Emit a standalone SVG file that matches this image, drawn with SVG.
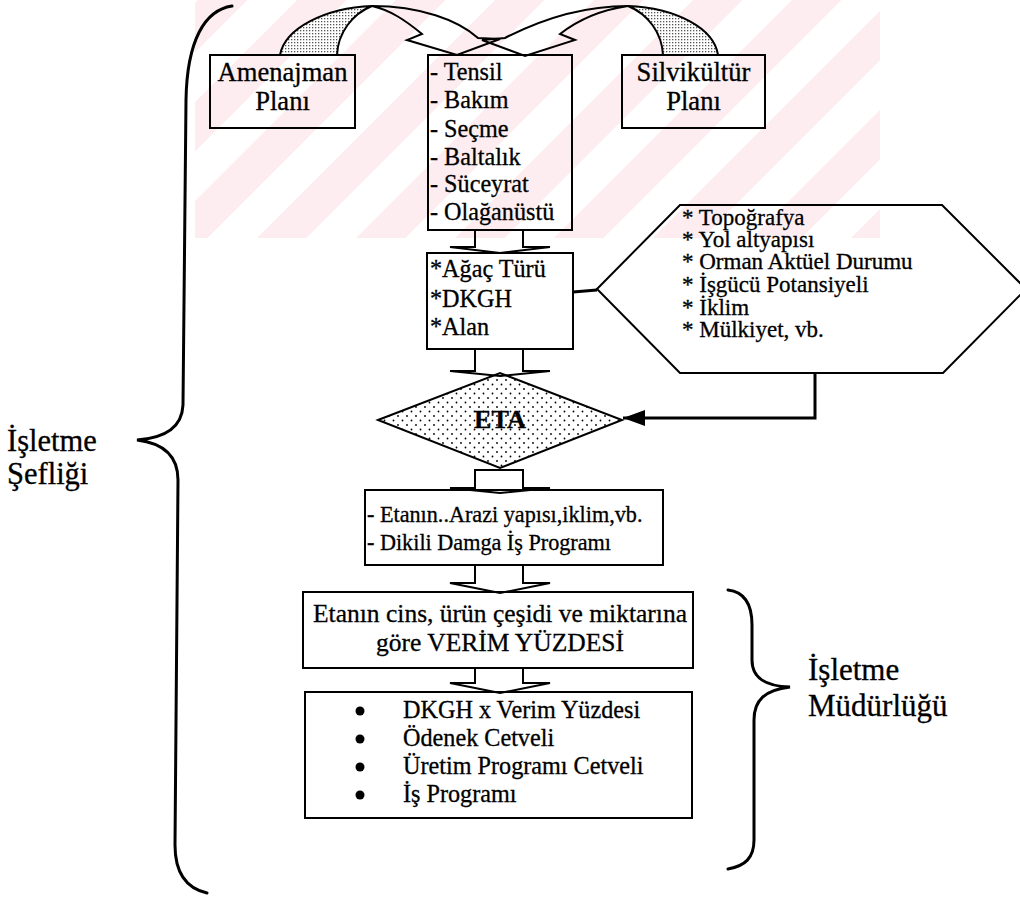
<svg xmlns="http://www.w3.org/2000/svg" width="1020" height="899" viewBox="0 0 1020 899">
  <style>
    .t { font-family: "Liberation Serif", "DejaVu Serif", serif; fill: #000; stroke: #000; stroke-width: 0.3; }
    .box { fill: none; stroke: #000; stroke-width: 2; }
    .blk { fill: none; stroke: #000; stroke-width: 2; stroke-linejoin: miter; }
    .brace { fill: none; stroke: #000; stroke-width: 3; stroke-linecap: round; }
    .link { fill: none; stroke: #000; stroke-width: 3; }
  </style>
  <defs>
    <pattern id="dots" width="9" height="9" patternUnits="userSpaceOnUse">
      <rect width="9" height="9" fill="#fff"/>
      <circle cx="2" cy="2" r="0.9" fill="#000"/>
      <circle cx="6.5" cy="6.5" r="0.9" fill="#000"/>
    </pattern>
    <pattern id="hatch" width="3" height="3" patternUnits="userSpaceOnUse">
      <rect width="3" height="3" fill="#fff"/>
      <rect width="1.3" height="1.3" fill="#555"/>
    </pattern>
    <pattern id="stripes" width="70" height="70" patternUnits="userSpaceOnUse" patternTransform="rotate(45)">
      <rect width="35" height="70" fill="#fdedf0"/>
    </pattern>
    <marker id="head" viewBox="0 0 10 10" refX="10" refY="5" markerWidth="22" markerHeight="16" markerUnits="userSpaceOnUse" orient="auto" preserveAspectRatio="none">
      <path d="M0,0 L10,5 L0,10 Z" fill="#000"/>
    </marker>
  </defs>

  <rect width="1020" height="899" fill="#fff"/>
  <!-- faint background band behind the top of the chart -->
  <polygon points="195,0 880,0 880,238 195,238" fill="url(#stripes)"/>

  <!-- curly braces -->
  <g id="brace-sefligi">
    <path class="brace" d="M232,6 C205,10 187,40 186,100 L183,405 C182,428 165,438 137,440 C162,443 178,455 178,480 L175,845 C175,872 185,888 207,893"/>
    <text class="t" x="7" y="451" font-size="30.5">İşletme</text>
    <text class="t" x="7" y="484" font-size="30.5">Şefliği</text>
  </g>
  <g id="brace-mudurlugu">
    <path class="brace" d="M728,590 C745,592 752,605 752,625 L752,660 C752,678 765,686 790,687 C765,690 754,700 754,720 L754,840 C754,858 745,866 728,869"/>
    <text class="t" x="808" y="680" font-size="31">İşletme</text>
    <text class="t" x="808" y="716" font-size="31">Müdürlüğü</text>
  </g>

  <!-- top plans -->
  <g id="amenajman">
    <rect class="box" x="210" y="55" width="145" height="73"/>
    <text class="t" x="282.5" y="81" font-size="26.6" text-anchor="middle">Amenajman</text>
    <text class="t" x="282.5" y="110" font-size="26.6" text-anchor="middle">Planı</text>
  </g>
  <g id="silvikultur">
    <rect class="box" x="622" y="55" width="143" height="73"/>
    <text class="t" x="693.5" y="81" font-size="26.6" text-anchor="middle">Silvikültür</text>
    <text class="t" x="693.5" y="110" font-size="26.6" text-anchor="middle">Planı</text>
  </g>
  <g id="kesim-turleri">
    <rect class="box" x="428" y="55" width="144" height="175"/>
    <g class="t" font-size="24.2">
      <text x="430" y="80">- Tensil</text>
      <text x="430" y="108">- Bakım</text>
      <text x="430" y="137">- Seçme</text>
      <text x="430" y="165">- Baltalık</text>
      <text x="430" y="192">- Süceyrat</text>
      <text x="430" y="220">- Olağanüstü</text>
    </g>
  </g>

  <g id="agac">
    <rect class="box" x="427" y="253" width="146" height="96"/>
    <g class="t" font-size="24.2">
      <text x="430" y="277">*Ağaç Türü</text>
      <text x="430" y="307">*DKGH</text>
      <text x="430" y="335">*Alan</text>
    </g>
  </g>

  <g id="etkenler">
    <polygon class="box" points="597,289 680,205 942,205 1026,289 943,373 680,373"/>
    <g class="t" font-size="23">
      <text x="682" y="225">* Topoğrafya</text>
      <text x="682" y="247">* Yol altyapısı</text>
      <text x="682" y="269">* Orman Aktüel Durumu</text>
      <text x="682" y="292">* İşgücü Potansiyeli</text>
      <text x="682" y="315">* İklim</text>
      <text x="682" y="337">* Mülkiyet, vb.</text>
    </g>
  </g>

  <g id="eta">
    <polygon points="378,420 500,373 622,420 500,468" fill="url(#dots)" stroke="#000" stroke-width="2"/>
    <text class="t" x="500" y="428" font-size="26.2" font-weight="bold" text-anchor="middle">ETA</text>
  </g>

  <g id="arazi">
    <rect class="box" x="365" y="490" width="298" height="75"/>
    <g class="t" font-size="22.2">
      <text x="367" y="522">- Etanın..Arazi yapısı,iklim,vb.</text>
      <text x="367" y="550">- Dikili Damga İş Programı</text>
    </g>
  </g>

  <g id="verim">
    <rect class="box" x="303" y="592" width="390" height="76"/>
    <g class="t" font-size="25.5" text-anchor="middle">
      <text x="500" y="622">Etanın cins, ürün çeşidi ve miktarına</text>
      <text x="500" y="651">göre VERİM YÜZDESİ</text>
    </g>
  </g>

  <g id="program">
    <rect class="box" x="305" y="692" width="387" height="126"/>
    <g fill="#000">
      <circle cx="360" cy="711" r="4.5"/>
      <circle cx="360" cy="739" r="4.5"/>
      <circle cx="360" cy="767" r="4.5"/>
      <circle cx="360" cy="795" r="4.5"/>
    </g>
    <g class="t" font-size="24.2">
      <text x="403" y="718">DKGH x Verim Yüzdesi</text>
      <text x="403" y="746">Ödenek Cetveli</text>
      <text x="403" y="774">Üretim Programı Cetveli</text>
      <text x="403" y="802">İş Programı</text>
    </g>
  </g>

  <!-- connectors -->
  <g id="connectors">
    <!-- curved arrow from Amenajman Planı -->
    <path d="M280,55 C285,28 325,8 372,6 C352,14 338,33 337,55 Z" fill="url(#hatch)" stroke="#000" stroke-width="2"/>
    <path class="blk" d="M372,6 C420,6 458,20 478,38 L500,39 L457,55 L407,40 L422,34 C405,20 390,10 372,6 Z"/>
    <!-- curved arrow from Silvikültür Planı -->
    <path d="M718,55 C714,28 676,8 628,6 C648,14 662,33 663,55 Z" fill="url(#hatch)" stroke="#000" stroke-width="2"/>
    <path class="blk" d="M628,6 C580,6 540,20 505,38 L482,40 L525,56 L575,40 L560,34 C578,20 600,10 628,6 Z"/>

    <!-- block arrows down the chain -->
    <path class="blk" d="M475,230 L475,247 L450,247 L500,253 L550,247 L523,247 L523,230"/>
    <path class="blk" d="M475,349 L475,371 L450,371 L500,376 L550,371 L523,371 L523,349"/>
    <path class="blk" d="M475,470 L523,470 L523,488 L550,488 L500,493 L450,488 L475,488 Z"/>
    <path class="blk" d="M475,565 L475,583 L450,583 L500,593 L550,583 L523,583 L523,565"/>
    <path class="blk" d="M475,668 L475,683 L450,683 L500,693 L550,683 L523,683 L523,668"/>

    <!-- factors link -->
    <line class="link" x1="573" y1="292" x2="597" y2="290"/>
    <polyline class="link" points="815,373 815,418 623,418" marker-end="url(#head)"/>
  </g>
</svg>
